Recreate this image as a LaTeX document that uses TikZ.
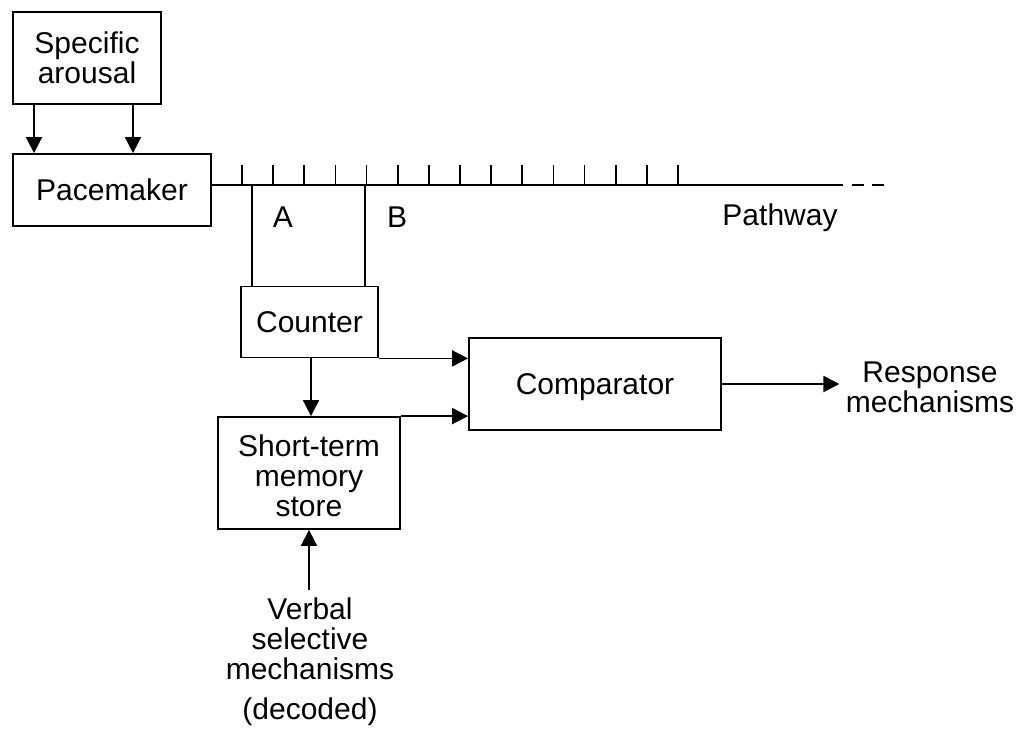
\documentclass[tikz,border=0pt]{standalone}
\usepackage{fontspec}
\setmainfont{Liberation Sans}
\usetikzlibrary{arrows.meta}
\begin{document}
\begin{tikzpicture}[x=0.5pt,y=-0.5pt,
  every node/.style={font=\fontsize{15}{15}\selectfont},
  blk/.style={draw,line width=0.9pt,align=center,inner sep=0pt},
  txt/.style={align=center,inner sep=2pt},
  ln/.style={line width=0.9pt},
  arr/.style={line width=0.9pt,-{Triangle[length=8pt,width=8pt]}}]
\useasboundingbox (0,0) rectangle (1026,729);
% blocks
\node[blk,minimum width=74pt,minimum height=46pt] (arousal) at (87,58) {Specific\\arousal};
\node[blk,minimum width=99pt,minimum height=36pt] (pace) at (112,190) {Pacemaker};
\node[blk,minimum width=68.5pt,minimum height=35.5pt] (counter) at (309.5,322) {Counter};
\node[blk,minimum width=91pt,minimum height=56pt] (stm) at (309,473) {\rule{0pt}{14pt}Short-term\\memory\\store};
\node[blk,minimum width=126pt,minimum height=46pt,text depth=0pt] (comp) at (595,384) {Comparator};
\node[txt,inner sep=3pt] (resp) at (930,387) {Response\\mechanisms};
\node[txt] (verbal) at (310,662) {Verbal\\selective\\mechanisms\\[5pt](decoded)};
% labels
\node[txt] (la) at (283,217) {A};
\node[txt] (lb) at (397,217) {B};
\node[txt] (lpath) at (780,218) {Pathway};
% pathway
\coordinate (pend) at (843,185);
\coordinate (dend) at (890,185);
\draw[ln] (pace.east |- pend) -- (pend);
\draw[ln,dash pattern=on 6pt off 4pt] (pend) ++(9,0) -- (dend);
\foreach \i in {0,...,14}{
  \draw[ln] ({242+31.14*\i},185) -- ({242+31.14*\i},165);
}
\coordinate (ta) at (252,185);
\coordinate (tb) at (365,185);
\draw[ln] (ta) -- (ta |- counter.north);
\draw[ln] (tb) -- (tb |- counter.north);
% arrows
\draw[arr] (arousal.south -| 34,0) -- (pace.north -| 34,0);
\draw[arr] (arousal.south -| 133,0) -- (pace.north -| 133,0);
\draw[arr] (counter.south east) -- (comp.west |- counter.south east);
\draw[arr] (stm.north east) -- (comp.west |- stm.north east);
\draw[arr] (counter.south -| 311,0) -- (stm.north -| 311,0);
\draw[arr] (verbal.north -| stm.south) ++(0,-4) -- (stm.south);
\draw[arr] (comp.east) -- (resp.west |- comp.east);
\end{tikzpicture}
\end{document}
